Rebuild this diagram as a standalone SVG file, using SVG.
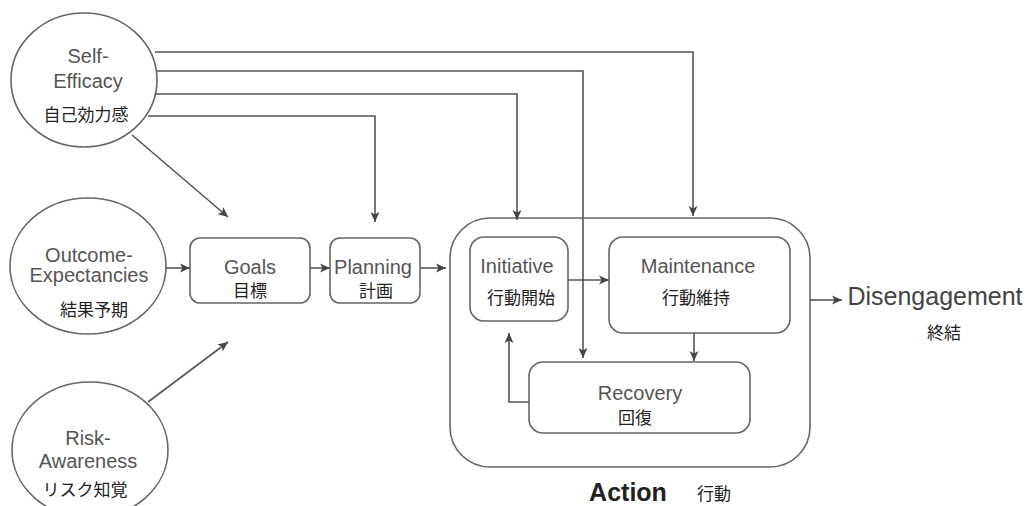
<svg xmlns="http://www.w3.org/2000/svg" width="1027" height="506" viewBox="0 0 1027 506">
<style>
.sh{fill:#fff;stroke:#666;stroke-width:1.6}
.en{font-family:"Liberation Sans",Arial,sans-serif;font-size:20px;fill:#555;text-anchor:middle}
.ja{font-family:"Noto Sans CJK JP",sans-serif;font-size:17px;fill:#222;text-anchor:middle}
.cn{fill:none;stroke:#555;stroke-width:1.6}
</style>
<defs>
<marker id="ah" viewBox="0 0 10 10" refX="10" refY="5" markerWidth="10" markerHeight="10" markerUnits="userSpaceOnUse" orient="auto">
<path d="M0,0.5 L10,5 L0,9.5 L2.5,5 Z" fill="#444"/>
</marker>
</defs>
<rect width="1027" height="506" fill="#fff"/>
<g id="action">
<rect class="sh" x="450" y="218" width="360" height="249" rx="40"/>
<text x="628" y="501" font-family="Liberation Sans,Arial,sans-serif" font-size="25" font-weight="bold" fill="#222" text-anchor="middle">Action</text>
<text class="ja" x="714" y="500">行動</text>
</g>
<g id="self-efficacy">
<ellipse class="sh" cx="84" cy="80" rx="73" ry="67"/>
<text class="en" x="88" y="63">Self-</text>
<text class="en" x="88" y="88">Efficacy</text>
<text class="ja" x="86" y="121">自己効力感</text>
</g>
<g id="outcome">
<ellipse class="sh" cx="88" cy="266" rx="78" ry="68"/>
<text class="en" x="89" y="262">Outcome-</text>
<text class="en" x="89" y="282">Expectancies</text>
<text class="ja" x="94" y="316" font-size="18">結果予期</text>
</g>
<g id="risk">
<ellipse class="sh" cx="90" cy="450" rx="78" ry="68"/>
<text class="en" x="88" y="445">Risk-</text>
<text class="en" x="88" y="468">Awareness</text>
<text class="ja" x="85" y="496" font-size="18">リスク知覚</text>
</g>
<g id="goals">
<rect class="sh" x="190" y="238" width="120" height="65" rx="10"/>
<text class="en" x="250" y="274">Goals</text>
<text class="ja" x="250" y="297">目標</text>
</g>
<g id="planning">
<rect class="sh" x="330" y="238" width="90" height="65" rx="10"/>
<text class="en" x="373" y="274">Planning</text>
<text class="ja" x="376" y="297">計画</text>
</g>
<g id="initiative">
<rect class="sh" x="470" y="237" width="98" height="84" rx="14"/>
<text class="en" x="517" y="273">Initiative</text>
<text class="ja" x="521" y="304" font-size="18">行動開始</text>
</g>
<g id="maintenance">
<rect class="sh" x="609" y="237" width="181" height="96" rx="14"/>
<text class="en" x="698" y="273">Maintenance</text>
<text class="ja" x="696" y="304" font-size="18">行動維持</text>
</g>
<g id="recovery">
<rect class="sh" x="529" y="362" width="221" height="71" rx="14"/>
<text class="en" x="640" y="400">Recovery</text>
<text class="ja" x="635" y="424" font-size="18">回復</text>
</g>
<g id="disengagement">
<text x="935" y="305" font-family="Liberation Sans,Arial,sans-serif" font-size="25" fill="#444" text-anchor="middle">Disengagement</text>
<text class="ja" x="944" y="339">終結</text>
</g>
<g id="connectors">
<path class="cn" d="M155,52 H693 V216" marker-end="url(#ah)"/>
<path class="cn" d="M157,71 H583 V358" marker-end="url(#ah)"/>
<path class="cn" d="M155,94 H517 V220" marker-end="url(#ah)"/>
<path class="cn" d="M148,116 H375 V222" marker-end="url(#ah)"/>
<path class="cn" d="M132,135 L228,217" marker-end="url(#ah)"/>
<path class="cn" d="M148,402 L228,342" marker-end="url(#ah)"/>
<path class="cn" d="M166,268 H190" marker-end="url(#ah)"/>
<path class="cn" d="M310,268 H330" marker-end="url(#ah)"/>
<path class="cn" d="M420,268 H446" marker-end="url(#ah)"/>
<path class="cn" d="M568,280 H609" marker-end="url(#ah)"/>
<path class="cn" d="M694,333 V361" marker-end="url(#ah)"/>
<path class="cn" d="M529,402 H509 V333" marker-end="url(#ah)"/>
<path class="cn" d="M810,300 H842" marker-end="url(#ah)"/>
</g>
</svg>
